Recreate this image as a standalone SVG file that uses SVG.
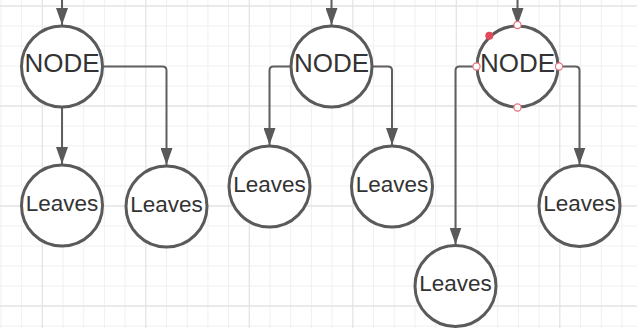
<svg xmlns="http://www.w3.org/2000/svg" width="637" height="328" viewBox="0 0 637 328">
  <defs>
    <marker id="arrow" viewBox="0 0 17 12" refX="17" refY="6" markerWidth="17" markerHeight="12" markerUnits="userSpaceOnUse" orient="auto">
      <path d="M0,0 L17,6 L0,12 z" fill="#595959"/>
    </marker>
    <style>
      .minor { stroke: #f0f0f0; stroke-width: 1; fill: none; }
      .major { stroke: #e4e4e4; stroke-width: 1.3; fill: none; }
      .node circle.body { fill: #ffffff; stroke: #5a5a5a; stroke-width: 3; }
      .edge { fill: none; stroke: #5f5f5f; stroke-width: 2; marker-end: url(#arrow); }
      .big { font-family: "Liberation Sans", Arial, sans-serif; font-size: 26px; fill: #333333; text-anchor: middle; }
      .small { font-family: "Liberation Sans", Arial, sans-serif; font-size: 22.5px; fill: #333333; text-anchor: middle; }
      .handle { fill: #ffffff; stroke: #e8707c; stroke-width: 1.2; }
      .grip { fill: #e04a5c; }
    </style>
  </defs>

  <rect width="637" height="328" fill="#ffffff"/>

  <!-- background grid -->
  <g id="grid">
    <path class="minor" d="M0.9,0V328 M21.6,0V328 M63,0V328 M83.7,0V328 M104.4,0V328 M125.1,0V328 M166.5,0V328 M187.2,0V328 M207.9,0V328 M228.6,0V328 M270,0V328 M290.7,0V328 M311.4,0V328 M332.1,0V328 M373.5,0V328 M394.2,0V328 M414.9,0V328 M435.6,0V328 M477,0V328 M497.7,0V328 M518.4,0V328 M539.1,0V328 M580.5,0V328 M601.2,0V328 M621.9,0V328
      M0,26H637 M0,46H637 M0,66H637 M0,86H637 M0,126H637 M0,146H637 M0,166H637 M0,186H637 M0,226H637 M0,246H637 M0,266H637 M0,286H637 M0,326H637"/>
    <path class="major" d="M42.3,0V328 M145.8,0V328 M249.3,0V328 M352.8,0V328 M456.3,0V328 M559.8,0V328
      M0,6H637 M0,106H637 M0,206H637 M0,306H637"/>
  </g>

  <!-- connectors -->
  <g id="connectors">
    <path class="edge" d="M62,0 V25"/>
    <path class="edge" d="M331.5,0 V25"/>
    <path class="edge" d="M517.5,0 V25"/>
    <path class="edge" d="M62,108 V164"/>
    <path class="edge" d="M104,66.5 H162.5 Q166.5,66.5 166.5,70.5 V165"/>
    <path class="edge" d="M290,66.5 H273.5 Q269.5,66.5 269.5,70.5 V145"/>
    <path class="edge" d="M373,66.5 H388 Q392,66.5 392,70.5 V145"/>
    <path class="edge" d="M476,66.5 H459.5 Q455.5,66.5 455.5,70.5 V244.5"/>
    <path class="edge" d="M559,66.5 H575.5 Q579.5,66.5 579.5,70.5 V164.5"/>
  </g>

  <!-- first tree -->
  <g id="node-1" class="node">
    <circle class="body" cx="62" cy="66.5" r="40.5"/>
    <text class="big" x="62" y="71.5">NODE</text>
  </g>
  <g id="leaf-1a" class="node">
    <circle class="body" cx="62" cy="205.5" r="40.5"/>
    <text class="small" x="62" y="210.5">Leaves</text>
  </g>
  <g id="leaf-1b" class="node">
    <circle class="body" cx="166.5" cy="206.5" r="40.5"/>
    <text class="small" x="166.5" y="211.5">Leaves</text>
  </g>

  <!-- second tree -->
  <g id="node-2" class="node">
    <circle class="body" cx="331.5" cy="66.5" r="40.5"/>
    <text class="big" x="331.5" y="71.5">NODE</text>
  </g>
  <g id="leaf-2a" class="node">
    <circle class="body" cx="269.5" cy="186.5" r="40.5"/>
    <text class="small" x="269.5" y="191.5">Leaves</text>
  </g>
  <g id="leaf-2b" class="node">
    <circle class="body" cx="392" cy="186.5" r="40.5"/>
    <text class="small" x="392" y="191.5">Leaves</text>
  </g>

  <!-- third tree (selected node with handles) -->
  <g id="node-3" class="node">
    <circle class="body" cx="517.5" cy="66.5" r="40.5"/>
    <text class="big" x="517.5" y="71.5">NODE</text>
    <circle class="handle" cx="517.5" cy="25" r="3.6"/>
    <circle class="handle" cx="476.5" cy="66.5" r="3.6"/>
    <circle class="handle" cx="559" cy="66.5" r="3.6"/>
    <circle class="handle" cx="517.5" cy="107.5" r="3.6"/>
    <circle class="grip" cx="489.3" cy="35.8" r="4"/>
  </g>
  <g id="leaf-3a" class="node">
    <circle class="body" cx="455.5" cy="286" r="40.5"/>
    <text class="small" x="455.5" y="291">Leaves</text>
  </g>
  <g id="leaf-3b" class="node">
    <circle class="body" cx="579.5" cy="206" r="40.5"/>
    <text class="small" x="579.5" y="211">Leaves</text>
  </g>
</svg>
